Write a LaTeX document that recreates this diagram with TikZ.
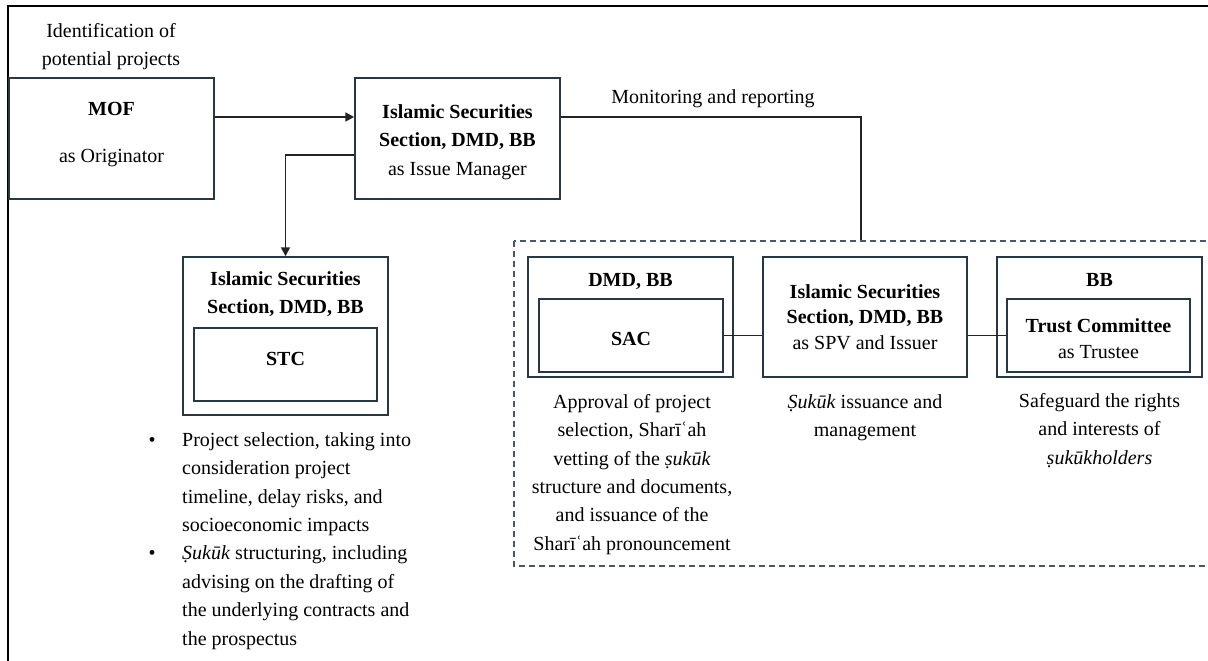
\documentclass[tikz,border=0pt]{standalone}
\usepackage{fontspec}
\setmainfont{Liberation Serif}
\usetikzlibrary{arrows.meta}
\definecolor{boxcol}{RGB}{38,55,70}
\definecolor{dashcol}{RGB}{70,88,105}
\definecolor{linecol}{RGB}{35,35,35}
\newcommand\mytop{\rule{0pt}{14pt}}
\begin{document}
\begin{tikzpicture}[x=1pt,y=-1pt,
  every node/.style={font=\fontsize{20}{28.4}\selectfont},
  box/.style={draw=boxcol, line width=1.5pt, inner sep=0pt},
  txt/.style={inner sep=0pt, align=center, anchor=north},
  lbl/.style={inner sep=0pt, anchor=base},
  conn/.style={draw=linecol, line width=1.8pt},
  arr/.style={conn, -{Triangle[length=9pt,width=9pt]}},
  dashbox/.style={draw=dashcol, line width=1.4pt, dash pattern=on 6pt off 4pt}]
\useasboundingbox (0,0) rectangle (1208,661);
\clip (0,0) rectangle (1208,661);
% outer frame
\draw[line width=2.4pt] (8,670) -- (8,6) -- (1215,6);

% MOF
\node[txt] (ident) at (111,23) {\mytop Identification of\\potential projects};
\node[box, minimum width=205pt, minimum height=121pt] (mof) at (111.5,138.5) {};
\node[txt] (moft) at (111.5,101) {\mytop\textbf{MOF}\\[18.6pt] as Originator};

% Issue manager
\node[box, minimum width=205pt, minimum height=121pt] (ism) at (457.5,138.5) {};
\node[txt] (ismt) at (457.5,104) {\mytop\textbf{Islamic Securities}\\\textbf{Section, DMD, BB}\\as Issue Manager};

\coordinate (r1) at (0,117);
\draw[arr] (mof.east |- r1) -- (ism.west |- r1);
\node[lbl] (mon) at (713,103) {Monitoring and reporting};
\coordinate (m) at (861,241);
\draw[conn] (ism.east |- r1) -| (m);

% STC
\node[box, minimum width=205pt, minimum height=158pt] (stco) at (285.5,336) {};
\node[txt] (stch) at (285.5,271) {\mytop\textbf{Islamic Securities}\\\textbf{Section, DMD, BB}};
\node[box, minimum width=183pt, minimum height=73pt] (stci) at (285.5,364.5) {};
\node[lbl] (stct) at (285.5,365) {\textbf{STC}};
\coordinate (r2) at (0,155);
\draw[arr] (ism.west |- r2) -| (stco.north);

% bullets
\node[lbl] (b1) at (152,446) {•};
\node[txt, anchor=north west, align=left] (b1t) at (182,432) {\mytop Project selection, taking into\\consideration project\\timeline, delay risks, and\\socioeconomic impacts};
\node[lbl] (b2) at (152,559.6) {•};
\node[txt, anchor=north west, align=left] (b2t) at (182,545.6) {\mytop\textit{Ṣukūk} structuring, including\\advising on the drafting of\\the underlying contracts and\\the prospectus};

% dashed group
\draw[dashbox] (514,241) rectangle (1240,566);

% SAC
\node[box, minimum width=205pt, minimum height=120pt] (saco) at (630.5,317) {};
\node[lbl] (sach) at (630.5,286) {\textbf{DMD, BB}};
\node[box, minimum width=184pt, minimum height=73pt] (saci) at (631,335.5) {};
\node[lbl] (sact) at (631,345) {\textbf{SAC}};
\node[txt] (sacd) at (632,394) {\mytop Approval of project\\selection, Sharīʿah\\vetting of the \textit{ṣukūk}\\structure and documents,\\and issuance of the\\Sharīʿah pronouncement};

% SPV
\node[box, minimum width=204pt, minimum height=120pt] (spv) at (865,317) {};
\node[txt, font=\fontsize{20}{25.5}\selectfont] (spvt) at (865,284) {\mytop\textbf{Islamic Securities}\\\textbf{Section, DMD, BB}\\as SPV and Issuer};
\node[txt] (spvd) at (865,394) {\mytop\textit{Ṣukūk} issuance and\\management};

% Trustee
\node[box, minimum width=205pt, minimum height=120pt] (bbo) at (1099.5,317) {};
\node[lbl] (bbh) at (1099.5,286) {\textbf{BB}};
\node[box, minimum width=183pt, minimum height=73pt] (tri) at (1098.5,335.5) {};
\node[txt, font=\fontsize{20}{26}\selectfont] (trt) at (1098.5,318) {\mytop\textbf{Trust Committee}\\as Trustee};
\node[txt] (bbd) at (1099.5,393) {\mytop Safeguard the rights\\and interests of\\\textit{ṣukūkholders}};

\draw[conn] (saci.east) -- (saci.east -| spv.west);
\draw[conn] (spv.east |- tri.west) -- (tri.west);
\end{tikzpicture}
\end{document}
